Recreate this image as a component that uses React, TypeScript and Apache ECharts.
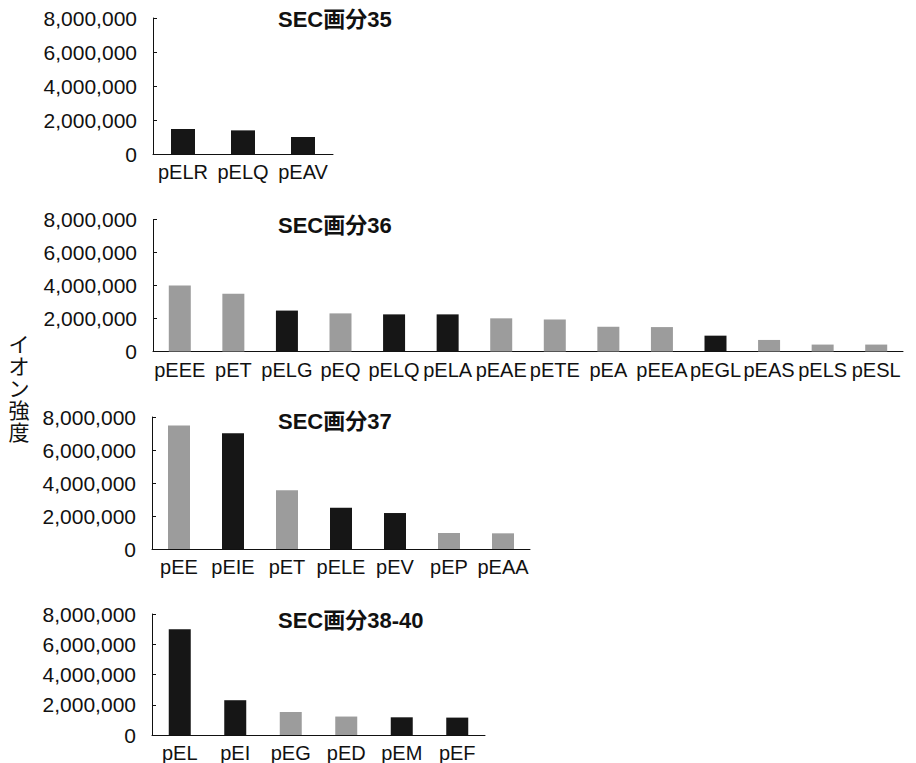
import React, { useEffect, useRef } from "react";
import * as echarts from "echarts";

const yTicks = [0, 2000000, 4000000, 6000000, 8000000];
const yAxisTitle = "イオン強度";

const titles = ["SEC画分35", "SEC画分36", "SEC画分37", "SEC画分38-40"];

const cat35 = ["pELR", "pELQ", "pEAV"];
const val35 = [1470000, 1390000, 1000000];
const kind35 = ["b", "b", "b"];

const cat36 = ["pEEE", "pET", "pELG", "pEQ", "pELQ", "pELA", "pEAE", "pETE", "pEA", "pEEA", "pEGL", "pEAS", "pELS", "pESL"];
const val36 = [4000000, 3500000, 2480000, 2310000, 2250000, 2250000, 2010000, 1940000, 1500000, 1480000, 960000, 700000, 420000, 420000];
const kind36 = ["g", "g", "b", "g", "b", "b", "g", "g", "g", "g", "b", "g", "g", "g"];

const cat37 = ["pEE", "pEIE", "pET", "pELE", "pEV", "pEP", "pEAA"];
const val37 = [7490000, 7010000, 3560000, 2500000, 2180000, 970000, 950000];
const kind37 = ["g", "b", "g", "b", "b", "g", "g"];

const cat38 = ["pEL", "pEI", "pEG", "pED", "pEM", "pEF"];
const val38 = [7000000, 2300000, 1520000, 1220000, 1170000, 1150000];
const kind38 = ["b", "b", "g", "g", "b", "b"];

const FONT = "'Liberation Sans', Arial, 'Noto Sans CJK JP', sans-serif";
const BLACK = "#161616";
const GRAY = "#9c9c9c";

export default function App() {
  const ref = useRef<HTMLDivElement>(null);
  useEffect(() => {
    if (!ref.current) return;
    const chart = echarts.init(ref.current, undefined, { renderer: "svg" });
    const panels = [
      { cats: cat35, vals: val35, kinds: kind35, grid: { left: 153, top: 18, width: 180, height: 136 }, bw: 24, titleTop: 8 },
      { cats: cat36, vals: val36, kinds: kind36, grid: { left: 153, top: 219.5, width: 750, height: 132 }, bw: 22, titleTop: 214 },
      { cats: cat37, vals: val37, kinds: kind37, grid: { left: 152, top: 417, width: 378, height: 132 }, bw: 22, titleTop: 410 },
      { cats: cat38, vals: val38, kinds: kind38, grid: { left: 152, top: 614, width: 333, height: 123 }, bw: 22, titleTop: 609 },
    ];
    const option: any = {
      animation: false,
      backgroundColor: "#ffffff",
      title: panels.map((p, i) => ({
        text: titles[i],
        left: 278,
        top: p.titleTop,
        padding: 0,
        textStyle: { fontFamily: FONT, fontSize: 22, fontWeight: "bold", color: "#111" },
      })),
      grid: panels.map((p) => ({ ...p.grid, containLabel: false })),
      xAxis: panels.map((p, i) => ({
        type: "category",
        gridIndex: i,
        data: p.cats,
        boundaryGap: true,
        axisLine: { show: true, lineStyle: { color: "#111", width: 1 } },
        axisTick: { show: false },
        axisLabel: { fontFamily: FONT, fontSize: 20, color: "#111", margin: 8, interval: 0 },
        splitLine: { show: false },
      })),
      yAxis: panels.map((p, i) => ({
        type: "value",
        gridIndex: i,
        min: yTicks[0],
        max: yTicks[yTicks.length - 1],
        interval: yTicks[1] - yTicks[0],
        axisLine: { show: true, lineStyle: { color: "#111", width: 1 } },
        axisTick: { show: true, inside: true, length: 4, lineStyle: { color: "#111" } },
        axisLabel: {
          fontFamily: FONT,
          fontSize: 21,
          color: "#111",
          margin: 16,
          formatter: (v: number) => v.toLocaleString("en-US"),
        },
        splitLine: { show: false },
      })),
      series: panels.map((p, i) => ({
        type: "bar",
        xAxisIndex: i,
        yAxisIndex: i,
        barWidth: p.bw,
        data: p.vals.map((v, j) => ({
          value: v,
          itemStyle: { color: p.kinds[j] === "b" ? BLACK : GRAY },
        })),
      })),
      graphic: [
        {
          type: "text",
          x: 19,
          y: 388,
          style: {
            text: yAxisTitle.split("").join("\n"),
            fontFamily: FONT,
            fontSize: 21,
            lineHeight: 22,
            fill: "#111",
            align: "center",
            verticalAlign: "middle",
          },
        },
      ],
    };
    chart.setOption(option);
    return () => chart.dispose();
  }, []);
  return (
    <div
      ref={ref}
      style={{ position: "fixed", left: 0, top: 0, width: 916, height: 763, background: "#fff" }}
    />
  );
}
